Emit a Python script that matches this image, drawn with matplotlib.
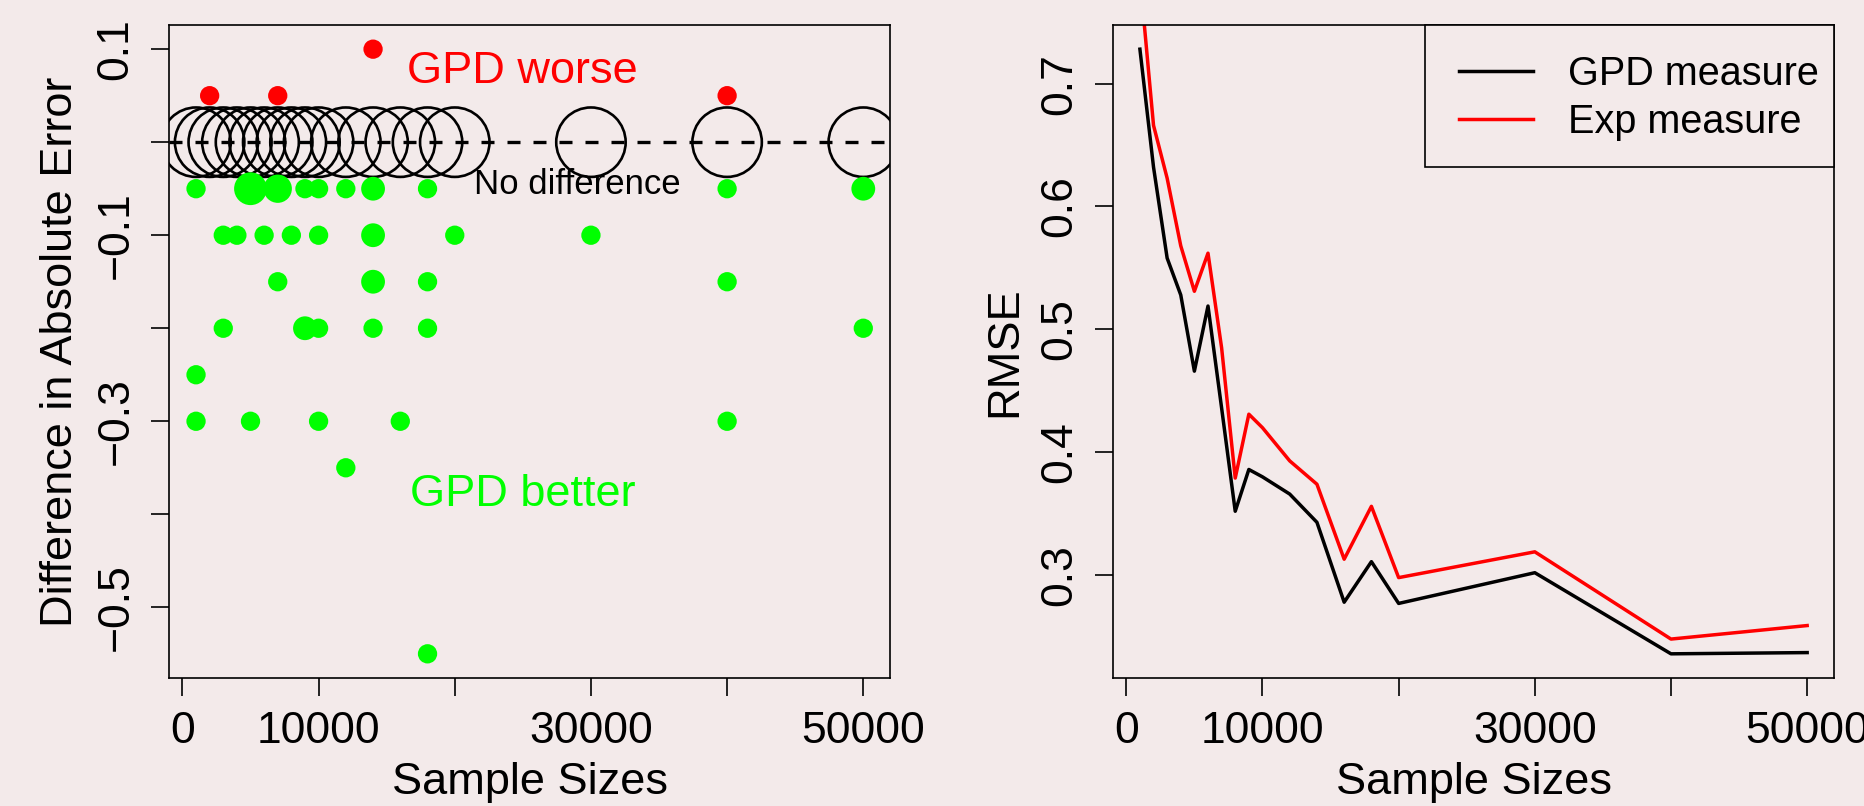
import numpy as np
import matplotlib.pyplot as plt
from matplotlib.patches import Rectangle

plt.rcParams['font.family'] = ['Liberation Sans', 'DejaVu Sans']

bg = '#f3eaea'

# sample sizes (both panels)
sizes = [1000, 2000, 3000, 4000, 5000, 6000, 7000, 8000, 9000, 10000,
         12000, 14000, 16000, 18000, 20000, 30000, 40000, 50000]

# left panel: difference in absolute error, GPD minus Exp
worse_x = [2000, 7000, 14000, 40000]
worse_y = [0.05, 0.05, 0.1, 0.05]
worse_n = [1, 1, 1, 1]

better_x = [1000, 5000, 7000, 9000, 10000, 12000, 14000, 18000, 40000, 50000,
            3000, 4000, 6000, 8000, 10000, 14000, 20000, 30000,
            7000, 14000, 18000, 40000,
            3000, 9000, 10000, 14000, 18000, 50000,
            1000,
            1000, 5000, 10000, 16000, 40000,
            12000,
            18000]
better_y = [-0.05, -0.05, -0.05, -0.05, -0.05, -0.05, -0.05, -0.05, -0.05, -0.05,
            -0.1, -0.1, -0.1, -0.1, -0.1, -0.1, -0.1, -0.1,
            -0.15, -0.15, -0.15, -0.15,
            -0.2, -0.2, -0.2, -0.2, -0.2, -0.2,
            -0.25,
            -0.3, -0.3, -0.3, -0.3, -0.3,
            -0.35,
            -0.55]
# number of cases sharing a point (bigger dot)
better_n = [1, 4, 3, 1, 1, 1, 2, 1, 1, 2,
            1, 1, 1, 1, 1, 2, 1, 1,
            1, 2, 1, 1,
            1, 2, 1, 1, 1, 1,
            1,
            1, 1, 1, 1, 1,
            1,
            1]

same_y = np.zeros(len(sizes))

# right panel: RMSE
gpd_rmse = [0.728, 0.632, 0.558, 0.528, 0.466, 0.519, 0.436, 0.352, 0.386, 0.380,
            0.366, 0.343, 0.278, 0.311, 0.277, 0.302, 0.236, 0.237]
exp_rmse = [0.787, 0.666, 0.623, 0.568, 0.531, 0.562, 0.485, 0.379, 0.431, 0.420,
            0.393, 0.374, 0.313, 0.356, 0.298, 0.319, 0.248, 0.259]


def rlim(v):
	# R style axis range, 4% on each side
	lo, hi = min(v), max(v)
	p = 0.04 * (hi - lo)
	return lo - p, hi + p


def dot_size(n):
	d = (14.8 + 4.5 * np.array(n)) * 0.72
	return d ** 2


def style(ax):
	ax.set_facecolor(bg)
	for s in ax.spines.values():
		s.set_linewidth(1.2)
	ax.tick_params(direction='out', length=13.3, width=1.2, labelsize=32, pad=10.5)


fig = plt.figure(figsize=(18.65, 8.06), dpi=100, facecolor=bg)
ax1 = fig.add_axes([0.0908, 0.1588, 0.3864, 0.8102])
ax2 = fig.add_axes([0.5969, 0.1588, 0.3864, 0.8102])

# ---- left panel
style(ax1)
ax1.scatter(sizes, same_y, s=50 ** 2, facecolors='none', edgecolors='black', linewidths=1.9, zorder=2)
ax1.axhline(0, color='black', lw=2.4, ls=(0, (3.9, 3.9)), zorder=3)
ax1.scatter(better_x, better_y, s=dot_size(better_n), color='#00ff00', linewidths=0, zorder=4)
ax1.scatter(worse_x, worse_y, s=dot_size(worse_n), color='#ff0000', linewidths=0, zorder=4)
ax1.text(25000, 0.0637, 'GPD worse', color='#ff0000', fontsize=32.5, ha='center', va='baseline')
ax1.text(29000, -0.056, 'No difference', color='black', fontsize=25, ha='center', va='baseline')
ax1.text(25000, -0.3906, 'GPD better', color='#00ff00', fontsize=32.5, ha='center', va='baseline')

ax1.set_xlim(rlim(sizes))
ax1.set_ylim(rlim(better_y + worse_y + list(same_y)))
ax1.set_xticks([0, 10000, 20000, 30000, 40000, 50000], ['0', '10000', '', '30000', '', '50000'])
ax1.set_yticks([-0.5, -0.4, -0.3, -0.2, -0.1, 0.0, 0.1],
	['\u22120.5', '', '\u22120.3', '', '\u22120.1', '', '0.1'], rotation=90, va='center')
ax1.set_xlabel('Sample Sizes', fontsize=32.5)
ax1.set_ylabel('Difference in Absolute Error', fontsize=32.5)
ax1.xaxis.set_label_coords(0.5, -0.1286)
ax1.yaxis.set_label_coords(-0.1226, 0.5)

# ---- right panel
style(ax2)
ax2.plot(sizes, gpd_rmse, color='black', lw=2.5, label='GPD measure')
ax2.plot(sizes, exp_rmse, color='#ff0000', lw=2.5, label='Exp measure')
ax2.set_xlim(rlim(sizes))
ax2.set_ylim(rlim(gpd_rmse))
ax2.set_xticks([0, 10000, 20000, 30000, 40000, 50000], ['0', '10000', '', '30000', '', '50000'])
ax2.set_yticks([0.3, 0.4, 0.5, 0.6, 0.7], ['0.3', '0.4', '0.5', '0.6', '0.7'], rotation=90, va='center')
ax2.set_xlabel('Sample Sizes', fontsize=32.5)
ax2.set_ylabel('RMSE', fontsize=32.5)
ax2.xaxis.set_label_coords(0.5, -0.1286)
ax2.yaxis.set_label_coords(-0.1226, 0.5)

# legend box drawn separately, R style (wide left pad, tight right pad)
ax2.add_patch(Rectangle((0.4325, 0.783), 0.5675, 0.217, transform=ax2.transAxes,
	facecolor=bg, edgecolor='black', lw=1.2, zorder=5, clip_on=False))
leg = ax2.legend(loc='upper left', bbox_to_anchor=(0.4797, 0.9538), borderaxespad=0, borderpad=0,
	frameon=False, fontsize=28.5, handlelength=1.87, handletextpad=0.88, labelspacing=0.25)
leg.set_zorder(6)

fig.savefig('out.png', dpi=100, facecolor=bg)
